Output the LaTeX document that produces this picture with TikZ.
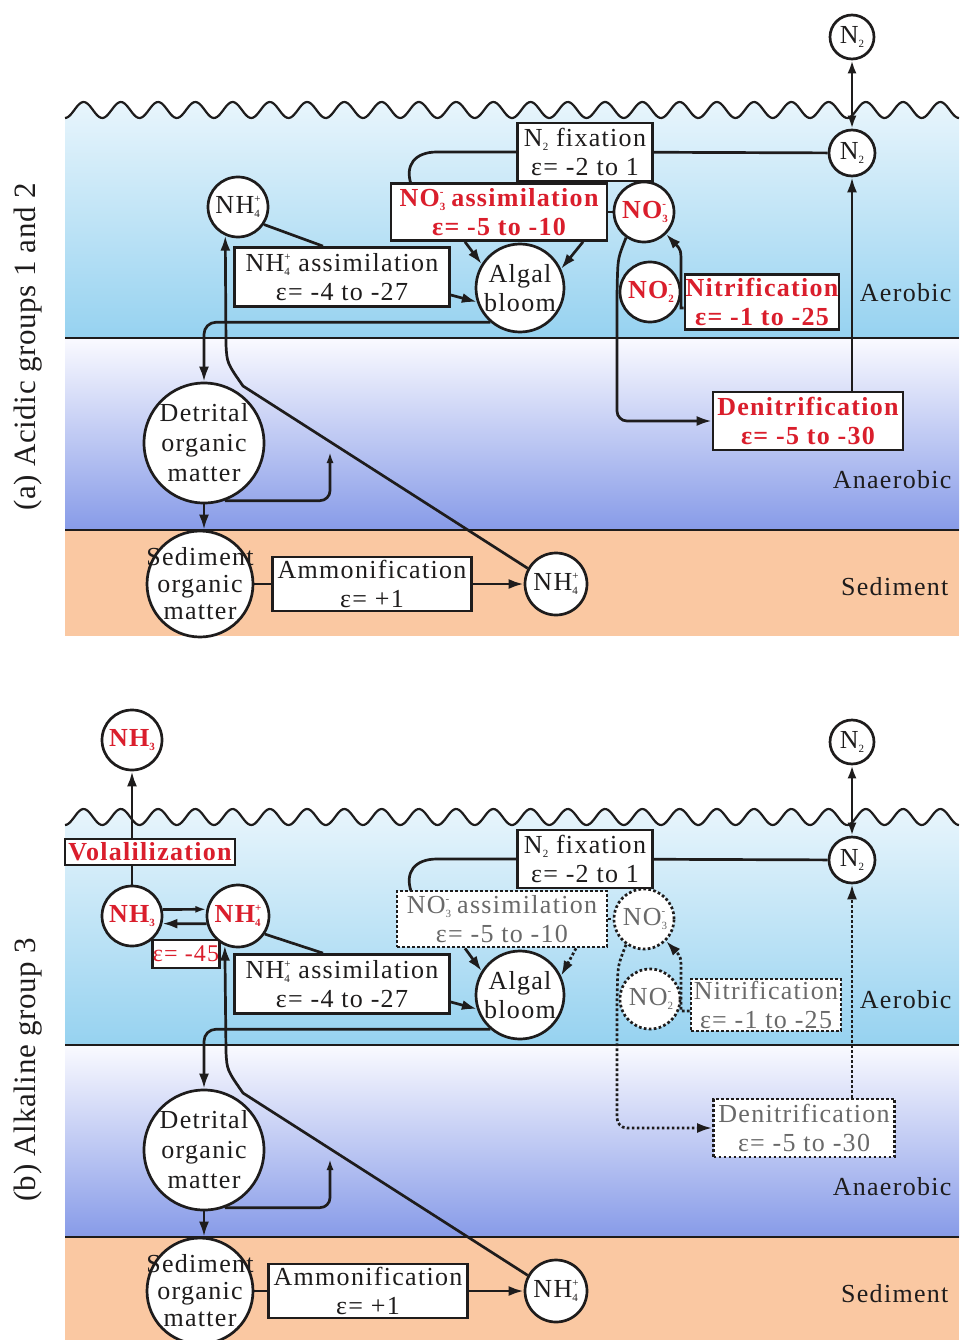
\documentclass[tikz,border=0pt]{standalone}
\usepackage{fontspec}
\setmainfont{Liberation Serif}[LetterSpace=5]
\usetikzlibrary{arrows.meta}
\definecolor{redt}{RGB}{218,30,44}
\definecolor{grayt}{RGB}{105,105,105}
\definecolor{ink}{RGB}{30,28,28}
\definecolor{aertop}{RGB}{232,245,252}
\definecolor{aerbot}{RGB}{150,210,240}
\definecolor{antop}{RGB}{250,250,255}
\definecolor{anbot}{RGB}{135,155,232}
\definecolor{sedc}{RGB}{250,200,162}
\newcommand{\csub}[1]{\raisebox{-4pt}{\fontsize{11}{11}\selectfont #1}}
\newcommand{\csup}[1]{\raisebox{11pt}{\fontsize{11}{11}\selectfont #1}}
\newcommand{\cboth}[2]{\makebox[0pt][l]{\csub{#1}}\csup{#2}}
\begin{document}
\begin{tikzpicture}[x=1pt,y=-1pt,
 every node/.style={text=ink, font=\fontsize{26}{29}\selectfont},
 lw/.style={line width=2.7pt, draw=ink},
 circ/.style={circle, lw, fill=white, inner sep=0pt, minimum size=#1},
 box/.style={rectangle, lw, fill=white, inner sep=0pt, align=center},
 dotline/.style={dash pattern=on 2.7pt off 2.3pt},
 rtext/.style={text=redt, font=\fontsize{26}{29}\selectfont\bfseries},
 gtext/.style={text=grayt},
 ctext/.style={align=center},
 conn/.style={lw, -{Latex[length=15pt,width=10pt]}},
 sconn/.style={lw, -{Latex[length=11pt,width=7pt]}},
 wave/.style={line width=2.2pt, draw=ink},
 lab/.style={rotate=90, font=\fontsize{31}{31}\selectfont\addfontfeatures{LetterSpace=2}},
]
\useasboundingbox (0,0) rectangle (959,1340);

% ================= PANEL (a) backgrounds =================
\shade[top color=aertop, bottom color=aerbot] (65,338) -- (65,118) -- plot[domain=65:959,samples=500] (\x,{110+8*cos(9.66443*(\x-65))}) -- (959,338) -- cycle;
\shade[top color=antop, bottom color=anbot] (65,338) rectangle (959,530);
\fill[sedc] (65,530) rectangle (959,636);
\draw[wave] plot[domain=65:959,samples=500] (\x,{110+8*cos(9.66443*(\x-65))});
\draw[lw] (65,338) -- (959,338);
\draw[lw] (65,530) -- (959,530);

% ================= PANEL (b) backgrounds =================
\shade[top color=aertop, bottom color=aerbot] (65,1045) -- (65,825) -- plot[domain=65:959,samples=500] (\x,{817+8*cos(9.66443*(\x-65))}) -- (959,1045) -- cycle;
\shade[top color=antop, bottom color=anbot] (65,1045) rectangle (959,1237);
\fill[sedc] (65,1237) rectangle (959,1340);
\draw[wave] plot[domain=65:959,samples=500] (\x,{817+8*cos(9.66443*(\x-65))});
\draw[lw] (65,1045) -- (959,1045);
\draw[lw] (65,1237) -- (959,1237);

% ================= PANEL (a) nodes =================
\node[lab] (alab) at (28,347) {(a) Acidic groups 1 and 2};
\node[anchor=east] (aaer) at (955,293) {Aerobic};
\node[anchor=east] (aana) at (955,480) {Anaerobic};
\node[anchor=east] (ased-l) at (952,587) {Sediment};

\node[circ=44pt] (aN2top) at (852,37) {N\csub{2}};
\node[circ=46pt] (aN2) at (852,153) {N\csub{2}};
\node[box, minimum width=135pt, minimum height=58pt] (afix) at (585,152) {N\csub{2} fixation\\ε= -2 to 1};
\coordinate (ahk) at (411,184);
\node[box, rtext, minimum width=216pt, minimum height=57pt] (aNO3as) at (499,212) {NO\cboth{3}{-} assimilation\\ε= -5 to -10};
\node[circ=60pt, rtext] (aNO3) at (644,212) {NO\cboth{3}{-}};
\node[circ=60pt, rtext] (aNO2) at (650,292) {NO\cboth{2}{-}};
\node[box, rtext, minimum width=154pt, minimum height=55pt] (anitr) at (762,302) {Nitrification\\ε= -1 to -25};
\node[box, rtext, minimum width=190pt, minimum height=58pt] (adenit) at (808,421) {Denitrification\\ε= -5 to -30};
\node[circ=60pt] (aNH4) at (238,207) {NH\cboth{4}{+}};
\node[box, minimum width=215pt, minimum height=59pt] (aNH4as) at (342,277) {NH\cboth{4}{+} assimilation\\ε= -4 to -27};
\node[circ=88pt] (aalg) at (520,288) {};
\node[ctext] (aalgt) at (aalg) {Algal\\bloom};
\node[circ=120pt] (adet) at (204,443) {};
\node[ctext, font=\fontsize{26}{30}\selectfont] (adett) at (adet) {Detrital\\organic\\matter};
\coordinate (alp) at (330,452);
\node[circ=106pt] (ased) at (200,584) {};
\node[ctext, font=\fontsize{26}{27}\selectfont] (asedt) at (ased) {Sediment\\organic\\matter};
\node[box, minimum width=199pt, minimum height=54pt] (aamm) at (372,584) {Ammonification\\ε= +1};
\node[circ=62pt] (aNH4s) at (556,584) {NH\cboth{4}{+}};

% ================= PANEL (a) connectors =================
\draw[lw, {Latex[length=13pt,width=9pt]}-{Latex[length=13pt,width=9pt]}] (aN2) -- (aN2top);
\draw[lw] (afix) -- (aN2);
\draw[lw] (afix.west) -- (437,152) .. controls (414,152) and (405,166) .. (ahk);
\draw[lw] (aNO3as) -- (aNO3);
\draw[conn] ([xshift=-34pt]aNO3as.south) -- (aalg.148);
\draw[conn] ([xshift=84pt]aNO3as.south) -- (aalg.25);
\draw[lw] (aNH4.-34) -- ([xshift=-19pt]aNH4as.north);
\draw[conn] ([yshift=-18pt]aNH4as.east) -- (aalg.198);
\draw[conn, rounded corners=12pt] (aalg.229) -| (adet.north);
\draw[conn] (aNH4s.151) -- (243,386) .. controls (227,363) .. (226,345) -- (aNH4.246);
\draw[sconn, rounded corners=10pt] (adet.-70) -| (alp);
\draw[conn] (adet.south) -- (adet.south |- ased.north);
\draw[lw] (ased) -- (aamm);
\draw[conn] (aamm) -- (aNH4s);
\draw[conn, rounded corners=10pt] (aNO3.235) .. controls (618,258) .. (617,290) -- (617,421) -- (adenit.west);
\draw[conn] (adenit.north -| aN2) -- (aN2.south);
\draw[conn] ([yshift=-6pt]anitr.west) -- (681,308) -- (681,265) .. controls (681,250) .. (aNO3.-45);

% ================= PANEL (b) nodes =================
\node[lab] (blab) at (28,1070) {(b) Alkaline group 3};
\node[anchor=east] (baer) at (955,1000) {Aerobic};
\node[anchor=east] (bana) at (955,1187) {Anaerobic};
\node[anchor=east] (bsed-l) at (952,1294) {Sediment};

\node[circ=44pt] (bN2top) at (852,742) {N\csub{2}};
\node[circ=46pt] (bN2) at (852,860) {N\csub{2}};
\node[box, minimum width=135pt, minimum height=58pt] (bfix) at (585,859) {N\csub{2} fixation\\ε= -2 to 1};
\coordinate (bhk) at (411,891);
\node[box, dotline, gtext, minimum width=210pt, minimum height=56pt] (bNO3as) at (502,919) {NO\cboth{3}{-} assimilation\\ε= -5 to -10};
\node[circ=60pt, dotline, gtext] (bNO3) at (644,919) {NO\cboth{3}{-}};
\node[circ=60pt, dotline, gtext] (bNO2) at (650,999) {NO\cboth{2}{-}};
\node[box, dotline, gtext, minimum width=150pt, minimum height=52pt] (bnitr) at (766,1005) {Nitrification\\ε= -1 to -25};
\node[box, dotline, gtext, minimum width=181pt, minimum height=58pt] (bdenit) at (804,1128) {Denitrification\\ε= -5 to -30};

\node[circ=60pt, rtext] (bNH3top) at (132,740) {NH\csub{3}};
\node[box, rtext, minimum width=170pt, minimum height=26pt] (bvol) at (150,852) {Volalilization};
\node[box, text=redt, font=\fontsize{24}{28}\selectfont, minimum width=67pt, minimum height=28pt] (beps) at (186,954) {ε= -45};
\node[circ=60pt, rtext] (bNH3) at (132,916) {NH\csub{3}};
\node[circ=62pt, rtext] (bNH4) at (238,916) {NH\cboth{4}{+}};

\node[box, minimum width=215pt, minimum height=59pt] (bNH4as) at (342,984) {NH\cboth{4}{+} assimilation\\ε= -4 to -27};
\node[circ=88pt] (balg) at (520,995) {};
\node[ctext] (balgt) at (balg) {Algal\\bloom};
\node[circ=120pt] (bdet) at (204,1150) {};
\node[ctext, font=\fontsize{26}{30}\selectfont] (bdett) at (bdet) {Detrital\\organic\\matter};
\coordinate (blp) at (330,1159);
\node[circ=106pt] (bsed) at (200,1291) {};
\node[ctext, font=\fontsize{26}{27}\selectfont] (bsedt) at (bsed) {Sediment\\organic\\matter};
\node[box, minimum width=199pt, minimum height=54pt] (bamm) at (368,1291) {Ammonification\\ε= +1};
\node[circ=62pt] (bNH4s) at (556,1291) {NH\cboth{4}{+}};

% ================= PANEL (b) connectors =================
\draw[lw, {Latex[length=13pt,width=9pt]}-{Latex[length=13pt,width=9pt]}] (bN2) -- (bN2top);
\draw[lw] (bfix) -- (bN2);
\draw[lw] (bfix.west) -- (437,859) .. controls (414,859) and (405,873) .. (bhk);
\draw[lw, dotline] (bNO3as) -- (bNO3);
\draw[conn] ([xshift=-37pt]bNO3as.south) -- (balg.148);
\draw[conn, dotline] ([xshift=74pt]bNO3as.south) -- (balg.25);
\draw[lw] (bNH4.-34) -- ([xshift=-19pt]bNH4as.north);
\draw[conn] ([yshift=-18pt]bNH4as.east) -- (balg.198);
\draw[conn, rounded corners=12pt] (balg.229) -| (bdet.north);
\draw[conn] (bNH4s.151) -- (243,1093) .. controls (227,1070) .. (226,1052) -- (bNH4.246);
\draw[sconn, rounded corners=10pt] (bdet.-70) -| (blp);
\draw[conn] (bdet.south) -- (bdet.south |- bsed.north);
\draw[lw] (bsed) -- (bamm);
\draw[conn] (bamm) -- (bNH4s);
\draw[conn, dotline, rounded corners=10pt] (bNO3.235) .. controls (618,965) .. (617,997) -- (617,1128) -- (bdenit.west);
\draw[conn, dotline] (bdenit.north -| bN2) -- (bN2.south);
\draw[conn, dotline] ([yshift=-6pt]bnitr.west) -- (681,1011) -- (681,972) .. controls (681,957) .. (bNO3.-45);

\draw[lw] (bNH3) -- (bNH3 |- bvol.south);
\draw[conn] (bNH3 |- bvol.north) -- (bNH3top);
\draw[sconn] (bNH3.12) -- (bNH4.168);
\draw[conn] (bNH4.194) -- (bNH3.-14);
\end{tikzpicture}
\end{document}
